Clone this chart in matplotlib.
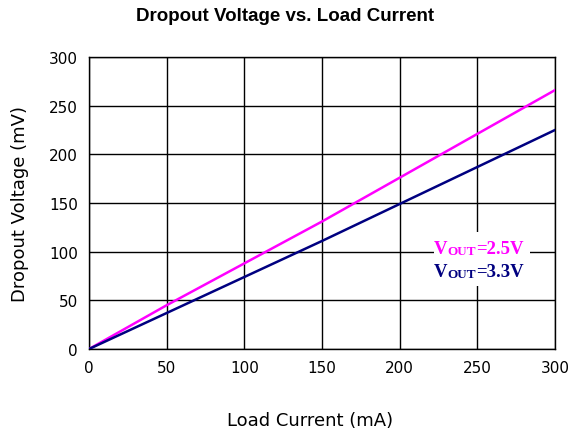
import matplotlib
matplotlib.use("Agg")
import matplotlib.pyplot as plt
from matplotlib.patches import Rectangle

# load current (mA) and dropout voltage (mV)
load_current = [0, 50, 100, 150, 200, 250, 300]
vout_25 = [0, 45, 88, 131, 176, 221, 266]
vout_33 = [0, 37, 74, 111, 149, 187, 225]

fig = plt.figure(figsize=(5.71, 4.39), dpi=100)
ax = fig.add_axes([0.1559, 0.2027, 0.8161, 0.6652])

ax.plot(load_current, vout_25, color='#ff00ff', linewidth=1.8, zorder=3)
ax.plot(load_current, vout_33, color='#000080', linewidth=1.8, zorder=3)

ax.set_xlim(0, 300)
ax.set_ylim(0, 300)
ax.set_xticks(range(0, 301, 50))
ax.set_yticks(range(0, 301, 50))
ax.grid(True, color='black', linewidth=1.0)
ax.set_axisbelow(True)
ax.tick_params(length=0, labelsize=11, pad=8)
for s in ax.spines.values():
    s.set_linewidth(1.0)

# white box behind the labels
ax.add_patch(Rectangle((222, 65), 62, 55, facecolor='white', edgecolor='none', zorder=2))


def label(x, y, value, color):
    font = dict(color=color, fontweight='bold', family='Liberation Serif', zorder=4)
    t = ax.text(x, y, 'V', fontsize=13.5, va='bottom', **font)
    s = ax.annotate('OUT', xy=(1, 0), xycoords=t, va='bottom', fontsize=9.5, **font)
    ax.annotate('=' + value, xy=(1, 0), xycoords=(s, t), va='bottom', fontsize=13.5, **font)


label(222, 95, '2.5V', '#ff00ff')
label(222, 71, '3.3V', '#000080')

fig.text(0.5, 0.962, 'Dropout Voltage vs. Load Current', ha='center', va='center',
         fontsize=13.5, fontweight='bold', family='Liberation Sans')
fig.text(0.543, 0.04, 'Load Current (mA)', ha='center', va='center', fontsize=13)
fig.text(0.035, 0.535, 'Dropout Voltage (mV)', ha='center', va='center',
         rotation=90, fontsize=13)

fig.savefig('out.png', dpi=100)
